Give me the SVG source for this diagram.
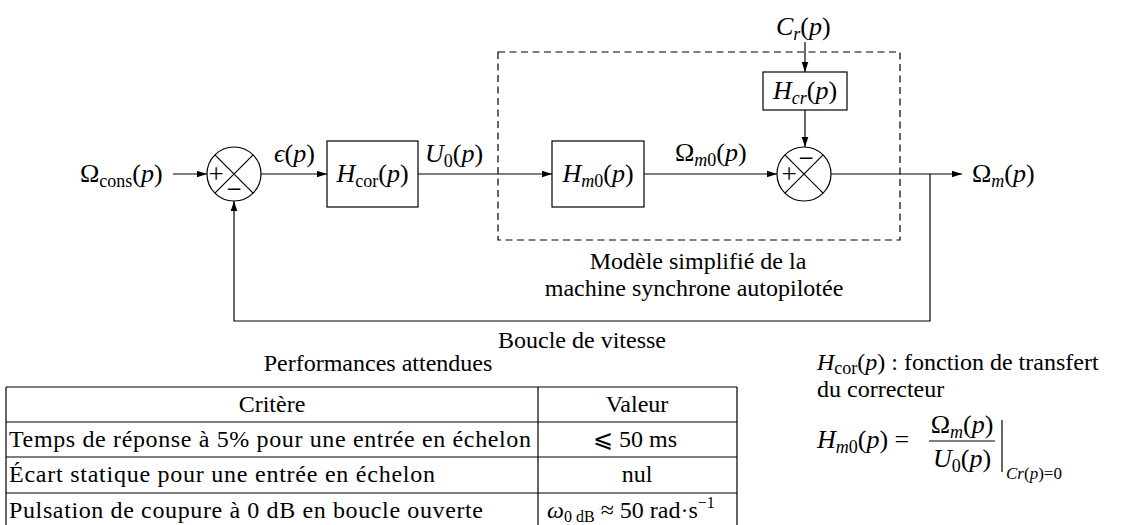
<svg xmlns="http://www.w3.org/2000/svg" width="1126" height="525" viewBox="0 0 1126 525">
<defs>
<style>
.t{font-family:"Liberation Serif","DejaVu Serif",serif;font-size:24px;fill:#000}
.m{font-size:26px}
.i{font-style:italic}
.s{font-size:18px}
.ss{font-size:16px}
.pm{font-size:27px}
.ln{fill:none;stroke:#000;stroke-width:1.2}
.bx{fill:#fff;stroke:#000;stroke-width:1.2}
.ds{fill:none;stroke:#000;stroke-width:1.2;stroke-dasharray:7 4.5}
.tb{fill:none;stroke:#000;stroke-width:1.2}
</style>
<marker id="ar" markerUnits="userSpaceOnUse" markerWidth="10" markerHeight="8" refX="10" refY="4" orient="auto">
<path d="M0,0.7 L10,4 L0,7.3 z" fill="#000"/>
</marker>
</defs>
<rect width="1126" height="525" fill="#fff"/>

<g id="model-frame">
<rect class="ds" x="498" y="52" width="402" height="188"/>
<text class="t" x="698" y="269" text-anchor="middle">Modèle simplifié de la</text>
<text class="t" x="694" y="296" text-anchor="middle">machine synchrone autopilotée</text>
</g>

<g id="connectors">
<line class="ln" x1="173" y1="174" x2="207" y2="174" marker-end="url(#ar)"/>
<line class="ln" x1="261" y1="174" x2="327" y2="174" marker-end="url(#ar)"/>
<line class="ln" x1="418" y1="174" x2="552" y2="174" marker-end="url(#ar)"/>
<line class="ln" x1="644" y1="174" x2="777" y2="174" marker-end="url(#ar)"/>
<line class="ln" x1="831" y1="174" x2="962" y2="174" marker-end="url(#ar)"/>
<line class="ln" x1="805" y1="42" x2="805" y2="72" marker-end="url(#ar)"/>
<line class="ln" x1="805" y1="110" x2="805" y2="147" marker-end="url(#ar)"/>
<polyline class="ln" points="930,174 930,321 234,321 234,201" marker-end="url(#ar)"/>
</g>

<g id="input">
<text class="t m" x="80" y="182">Ω<tspan class="s" dy="5">cons</tspan><tspan dy="-5">(</tspan><tspan class="i">p</tspan>)</text>
</g>

<g id="sum1">
<circle class="bx" cx="234" cy="174" r="27"/>
<path class="ln" d="M214.9,154.9 L253.1,193.1 M253.1,154.9 L214.9,193.1"/>
<text class="t pm" x="216" y="183" text-anchor="middle">+</text>
<text class="t pm" x="234" y="198" text-anchor="middle">−</text>
</g>

<g id="eps-label">
<text class="t m" x="274" y="162"><tspan class="i">ϵ</tspan>(<tspan class="i">p</tspan>)</text>
</g>

<g id="Hcor">
<rect class="bx" x="327" y="141" width="91" height="66"/>
<text class="t m" x="372.5" y="182" text-anchor="middle"><tspan class="i">H</tspan><tspan class="s" dy="5">cor</tspan><tspan dy="-5">(</tspan><tspan class="i">p</tspan>)</text>
</g>

<g id="U0-label">
<text class="t m" x="425" y="162"><tspan class="i">U</tspan><tspan class="s" dy="5">0</tspan><tspan dy="-5">(</tspan><tspan class="i">p</tspan>)</text>
</g>

<g id="Hm0">
<rect class="bx" x="552" y="141" width="92" height="66"/>
<text class="t m" x="598" y="182" text-anchor="middle"><tspan class="i">H</tspan><tspan class="s" dy="5"><tspan class="i">m</tspan>0</tspan><tspan dy="-5">(</tspan><tspan class="i">p</tspan>)</text>
</g>

<g id="Om0-label">
<text class="t m" x="675" y="161">Ω<tspan class="s" dy="5"><tspan class="i">m</tspan>0</tspan><tspan dy="-5">(</tspan><tspan class="i">p</tspan>)</text>
</g>

<g id="Cr-input">
<text class="t m" x="776" y="35"><tspan class="i">C</tspan><tspan class="s i" dy="5">r</tspan><tspan dy="-5">(</tspan><tspan class="i">p</tspan>)</text>
</g>

<g id="Hcr">
<rect class="bx" x="763" y="72" width="84" height="38"/>
<text class="t m" x="805" y="99" text-anchor="middle"><tspan class="i">H</tspan><tspan class="s i" dy="5">cr</tspan><tspan dy="-5">(</tspan><tspan class="i">p</tspan>)</text>
</g>

<g id="sum2">
<circle class="bx" cx="804" cy="174" r="27"/>
<path class="ln" d="M784.9,154.9 L823.1,193.1 M823.1,154.9 L784.9,193.1"/>
<text class="t pm" x="789" y="183" text-anchor="middle">+</text>
<text class="t pm" x="806" y="167" text-anchor="middle">−</text>
</g>

<g id="output">
<text class="t m" x="972" y="182">Ω<tspan class="s i" dy="5">m</tspan><tspan dy="-5">(</tspan><tspan class="i">p</tspan>)</text>
</g>

<g id="loop-label">
<text class="t" x="582" y="348" text-anchor="middle">Boucle de vitesse</text>
</g>

<g id="table">
<text class="t" x="378" y="371" text-anchor="middle">Performances attendues</text>
<path class="tb" d="M6,387 H737 M6,422 H737 M6,457 H737 M6,493 H737 M6,387 V526 M538,387 V526 M737,387 V526"/>
<text class="t" x="272" y="412" text-anchor="middle">Critère</text>
<text class="t" x="637" y="412" text-anchor="middle">Valeur</text>
<text class="t" x="9" y="447" textLength="522" lengthAdjust="spacing">Temps de réponse à 5% pour une entrée en échelon</text>
<text class="t" x="635" y="447" text-anchor="middle">⩽ 50 ms</text>
<text class="t" x="9" y="482" textLength="426" lengthAdjust="spacing">Écart statique pour une entrée en échelon</text>
<text class="t" x="637" y="482" text-anchor="middle">nul</text>
<text class="t" x="9" y="518" textLength="474" lengthAdjust="spacing">Pulsation de coupure à 0 dB en boucle ouverte</text>
<text class="t" x="547" y="518"><tspan class="i">ω</tspan><tspan class="ss" dy="4">0 dB</tspan><tspan dy="-4"> ≈ 50 rad·s</tspan><tspan class="ss" dy="-10">−1</tspan></text>
</g>

<g id="notes">
<text class="t" x="817" y="370"><tspan class="i">H</tspan><tspan class="s" dy="4">cor</tspan><tspan dy="-4">(</tspan><tspan class="i">p</tspan>) : fonction de transfert</text>
<text class="t" x="817" y="397">du correcteur</text>
<text class="t m" x="817" y="448"><tspan class="i">H</tspan><tspan class="s" dy="5"><tspan class="i">m</tspan>0</tspan><tspan dy="-5">(</tspan><tspan class="i">p</tspan>) =</text>
<text class="t m" x="962" y="433" text-anchor="middle">Ω<tspan class="s i" dy="5">m</tspan><tspan dy="-5">(</tspan><tspan class="i">p</tspan>)</text>
<line class="ln" x1="929" y1="441" x2="995" y2="441"/>
<text class="t m" x="962" y="467" text-anchor="middle"><tspan class="i">U</tspan><tspan class="s" dy="5">0</tspan><tspan dy="-5">(</tspan><tspan class="i">p</tspan>)</text>
<line class="ln" x1="1002" y1="420" x2="1002" y2="472"/>
<text class="t" style="font-size:17px" x="1006" y="479"><tspan class="i">Cr</tspan>(<tspan class="i">p</tspan>)=0</text>
</g>
</svg>
